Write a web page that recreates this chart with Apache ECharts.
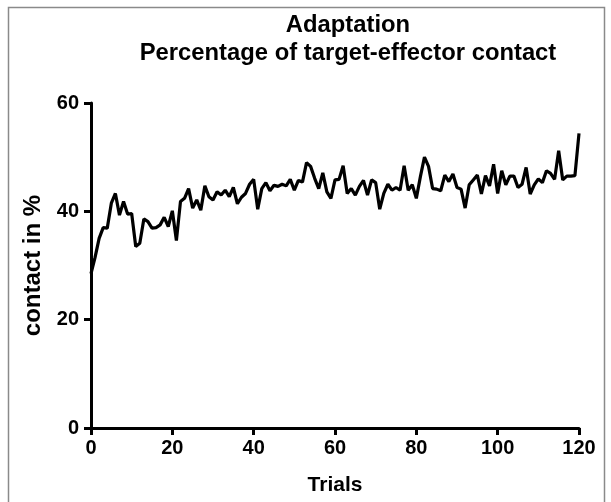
<!DOCTYPE html>
<html>
<head>
<meta charset="utf-8">
<script src="https://cdn.jsdelivr.net/npm/echarts@6/dist/echarts.min.js"></script>
<style>
  html, body { margin: 0; padding: 0; background: #fff; }
  #chart { width: 611px; height: 502px; }
</style>
</head>
<body>
<div id="chart"></div>
<script>
// Trial numbers 0..120
const trials = Array.from({ length: 121 }, (_, i) => i);

// Percentage of target-effector contact per trial
const contact = [
  28.5, 31.5, 35.0, 37.0, 36.9, 41.5, 43.3, 39.3, 41.8, 39.5,
  39.6, 33.5, 34.1, 38.6, 38.1, 36.9, 37.0, 37.5, 38.9, 37.2,
  40.1, 34.6, 41.8, 42.4, 44.2, 40.6, 42.1, 40.2, 44.7, 42.7,
  42.1, 43.6, 43.0, 43.9, 42.7, 44.4, 41.4, 42.6, 43.3, 45.0,
  45.9, 40.4, 44.2, 45.3, 43.8, 44.8, 44.6, 45.0, 44.7, 45.9,
  43.9, 45.7, 45.4, 49.0, 48.3, 46.1, 44.2, 47.1, 43.6, 42.4,
  45.8, 45.9, 48.4, 43.3, 44.2, 43.0, 44.6, 45.7, 43.0, 45.8,
  45.3, 40.4, 43.3, 45.0, 43.9, 44.4, 43.9, 48.4, 43.9, 44.9,
  42.4, 46.4, 50.0, 48.3, 44.2, 44.1, 43.8, 46.7, 45.5, 46.9,
  44.4, 44.1, 40.6, 44.9, 45.8, 46.7, 43.2, 46.6, 44.7, 48.7,
  43.3, 47.5, 44.9, 46.5, 46.5, 44.4, 45.0, 48.1, 43.2, 44.9,
  46.0, 45.3, 47.5, 47.0, 45.9, 51.2, 45.8, 46.5, 46.5, 46.6,
  54.4
];

const titleLines = ['Adaptation', 'Percentage of target-effector contact'];
const xName = 'Trials';
const yName = 'contact in %';

const FONT = '"Liberation Sans", Arial, sans-serif';

const chart = echarts.init(document.getElementById('chart'), null, { renderer: 'canvas' });

const axisCommon = {
  axisLine: { show: true, lineStyle: { color: '#000', width: 3 } },
  axisTick: { show: true, length: 7, lineStyle: { color: '#000', width: 3 } },
  splitLine: { show: false },
  axisLabel: { color: '#000', fontSize: 20, fontWeight: 'bold', fontFamily: FONT },
  nameTextStyle: { color: '#000', fontWeight: 'bold', fontFamily: FONT },
  nameLocation: 'middle'
};

chart.setOption({
  backgroundColor: '#fff',
  animation: false,
  title: {
    text: titleLines.join('\n'),
    left: 343,
    top: 6,
    textAlign: 'center',
    textStyle: { color: '#000', fontSize: 23.8, fontWeight: 'bold', fontFamily: FONT, lineHeight: 28 }
  },
  grid: { left: 91, right: 32, top: 103, bottom: 74, containLabel: false },
  xAxis: Object.assign({}, axisCommon, {
    type: 'value', min: 0, max: 120, interval: 20,
    name: xName, nameGap: 47,
    nameTextStyle: Object.assign({}, axisCommon.nameTextStyle, { fontSize: 21 }),
    axisLabel: Object.assign({}, axisCommon.axisLabel, { margin: 10 })
  }),
  yAxis: Object.assign({}, axisCommon, {
    type: 'value', min: 0, max: 60, interval: 20,
    name: yName, nameGap: 42,
    nameTextStyle: Object.assign({}, axisCommon.nameTextStyle, { fontSize: 24 }),
    axisLabel: Object.assign({}, axisCommon.axisLabel, { margin: 12 })
  }),
  graphic: [{
    type: 'rect',
    shape: { x: 8.5, y: 7.5, width: 596, height: 500 },
    style: { fill: null, stroke: '#8a8a8a', lineWidth: 1.5 },
    silent: true
  }],
  series: [{
    type: 'line',
    data: trials.map((t, i) => [t, contact[i]]),
    showSymbol: false,
    lineStyle: { color: '#000', width: 3.2 },
    clip: false
  }]
});
</script>
</body>
</html>
